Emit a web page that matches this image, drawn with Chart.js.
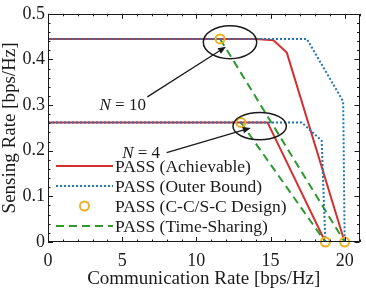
<!DOCTYPE html>
<html><head><meta charset="utf-8">
<script src="https://cdn.jsdelivr.net/npm/chart.js@4/dist/chart.umd.min.js"></script>
<style>html,body{margin:0;padding:0;background:#fff}#wrap{width:366px;height:290px;position:relative}</style>
</head><body><div id="wrap"><canvas id="c"></canvas></div>
<script>
// ---- data ----
const achievableN10X = [0, 14.0, 15.2, 16.1, 20.0];
const achievableN10Y = [0.445, 0.445, 0.442, 0.415, 0];
const achievableN4X = [0, 14.8, 18.7];
const achievableN4Y = [0.262, 0.262, 0];
const outerN10X = [0, 17.45, 19.9, 20.0];
const outerN10Y = [0.445, 0.445, 0.308, 0];
const outerN4X = [0, 17.1, 18.45, 18.7];
const outerN4Y = [0.262, 0.262, 0.222, 0];
const designX = [11.6, 20.0, 13.0, 18.7];
const designY = [0.445, 0, 0.262, 0];
const timeSharingN10X = [11.6, 20.0];
const timeSharingN10Y = [0.445, 0];
const timeSharingN4X = [13.0, 18.7];
const timeSharingN4Y = [0.262, 0];
const xTickValues = [0, 5, 10, 15, 20];
const xTickLabels = ['0', '5', '10', '15', '20'];
const yTickValues = [0, 0.1, 0.2, 0.3, 0.4, 0.5];
const yTickLabels = ['0', '0.1', '0.2', '0.3', '0.4', '0.5'];
const seriesLabels = ['PASS (Achievable)', 'PASS (Outer Bound)', 'PASS (C-C/S-C Design)', 'PASS (Time-Sharing)'];
const annotationValues = ['10', '4'];
const xTitle = 'Communication Rate [bps/Hz]';
const yTitle = 'Sensing Rate [bps/Hz]';

// annotation geometry in data units
const annotationGeom = [
  {ex: 12.27, ey: 0.4377, erx: 1.8, ery: 0.036, tx: 3.47, ty: 0.302, ax0: 6.7, ay0: 0.318, ax1: 12.0, ay1: 0.428},
  {ex: 14.27, ey: 0.254, erx: 1.8, ery: 0.030, tx: 5.0, ty: 0.198, ax0: 8.0, ay0: 0.196, ax1: 13.67, ay1: 0.25}
];

const RED = '#d62f2f', BLUE = '#1f77b4', ORANGE = '#EDB120', GREEN = '#2e9a2e', INK = '#1a1a1a';
const FONT = "'Liberation Serif', 'Times New Roman', serif";

const pts = (xs, ys) => xs.map((x, i) => ({x, y: ys[i]}));

const lineDs = (label, data, color, dash, order) => ({
  label, data, borderColor: color, backgroundColor: color, borderWidth: 2,
  borderDash: dash, pointRadius: 0, showLine: true, fill: false, tension: 0, order
});

const datasets = [
  lineDs(seriesLabels[0], pts(achievableN10X, achievableN10Y), RED, [], 4),
  lineDs(seriesLabels[0], pts(achievableN4X, achievableN4Y), RED, [], 4),
  lineDs(seriesLabels[1], pts(outerN10X, outerN10Y), BLUE, [2, 2], 2),
  lineDs(seriesLabels[1], pts(outerN4X, outerN4Y), BLUE, [2, 2], 2),
  lineDs(seriesLabels[3], pts(timeSharingN10X, timeSharingN10Y), GREEN, [8, 5], 3),
  lineDs(seriesLabels[3], pts(timeSharingN4X, timeSharingN4Y), GREEN, [8, 5], 3),
  {label: seriesLabels[2], data: pts(designX, designY), showLine: false, pointStyle: 'circle',
   pointRadius: 4.5, pointBorderWidth: 2, borderColor: ORANGE, backgroundColor: 'rgba(0,0,0,0)',
   pointBorderColor: ORANGE, pointBackgroundColor: 'rgba(0,0,0,0)', clip: false, order: 1}
];

const legendItems = [
  {type: 'line', color: RED, dash: []},
  {type: 'line', color: BLUE, dash: [2, 2]},
  {type: 'circle', color: ORANGE},
  {type: 'line', color: GREEN, dash: [8, 5]}
];

const decor = {
  id: 'decor',
  afterDatasetsDraw(chart) {
    const ctx = chart.ctx, a = chart.chartArea;
    const xs = chart.scales.x, ys = chart.scales.y;
    ctx.save();
    // frame
    ctx.strokeStyle = INK; ctx.lineWidth = 1;
    ctx.strokeRect(Math.round(a.left) + 0.5, Math.round(a.top) + 0.5, Math.round(a.right - a.left) - 1, Math.round(a.bottom - a.top) - 1);
    // ticks
    ctx.beginPath();
    for (let i = 0; i <= 21; i++) {
      const px = Math.round(xs.getPixelForValue(i)) + 0.5;
      const len = (i % 5 === 0) ? 5 : 2.5;
      ctx.moveTo(px, a.bottom); ctx.lineTo(px, a.bottom - len);
      ctx.moveTo(px, a.top); ctx.lineTo(px, a.top + len);
    }
    for (let i = 0; i <= 25; i++) {
      const py = Math.round(ys.getPixelForValue(i * 0.02)) + 0.5;
      const len = (i % 5 === 0) ? 5 : 2.5;
      ctx.moveTo(a.left, py); ctx.lineTo(a.left + len, py);
      ctx.moveTo(a.right, py); ctx.lineTo(a.right - len, py);
    }
    ctx.stroke();

    // annotations
    annotationGeom.forEach((g, k) => {
      const cx = xs.getPixelForValue(g.ex), cy = ys.getPixelForValue(g.ey);
      const rx = Math.abs(xs.getPixelForValue(g.ex + g.erx) - cx);
      const ry = Math.abs(ys.getPixelForValue(g.ey + g.ery) - cy);
      ctx.beginPath(); ctx.lineWidth = 1.5; ctx.strokeStyle = INK;
      ctx.ellipse(cx, cy, rx, ry, 0, 0, Math.PI * 2); ctx.stroke();
      // arrow
      const x0 = xs.getPixelForValue(g.ax0), y0 = ys.getPixelForValue(g.ay0);
      const x1 = xs.getPixelForValue(g.ax1), y1 = ys.getPixelForValue(g.ay1);
      const ang = Math.atan2(y1 - y0, x1 - x0), hl = 8, hw = 3.2;
      const bx = x1 - hl * Math.cos(ang), by = y1 - hl * Math.sin(ang);
      ctx.beginPath(); ctx.lineWidth = 1.3;
      ctx.moveTo(x0, y0); ctx.lineTo(bx, by); ctx.stroke();
      ctx.beginPath(); ctx.fillStyle = INK;
      ctx.moveTo(x1, y1);
      ctx.lineTo(bx + hw * Math.sin(ang), by - hw * Math.cos(ang));
      ctx.lineTo(bx - hw * Math.sin(ang), by + hw * Math.cos(ang));
      ctx.closePath(); ctx.fill();
      // text
      const tx = xs.getPixelForValue(g.tx), ty = ys.getPixelForValue(g.ty);
      ctx.fillStyle = INK; ctx.textBaseline = 'alphabetic'; ctx.textAlign = 'left';
      ctx.font = 'italic 17px ' + FONT;
      ctx.fillText('N', tx, ty + 6);
      const w = ctx.measureText('N').width;
      ctx.font = '17px ' + FONT;
      ctx.fillText(' = ' + annotationValues[k], tx + w, ty + 6);
    });

    // legend
    const lx0 = a.left + 8, lx1 = a.left + 65, tx = a.left + 67;
    ctx.font = '17.5px ' + FONT; ctx.textBaseline = 'alphabetic'; ctx.textAlign = 'left';
    legendItems.forEach((it, i) => {
      const y = a.bottom - 76 + i * 20;
      if (it.type === 'line') {
        ctx.beginPath(); ctx.setLineDash(it.dash); ctx.lineWidth = 2; ctx.strokeStyle = it.color;
        ctx.moveTo(lx0, y); ctx.lineTo(lx1, y); ctx.stroke(); ctx.setLineDash([]);
      } else {
        ctx.beginPath(); ctx.lineWidth = 2; ctx.strokeStyle = it.color;
        ctx.arc((lx0 + lx1) / 2, y, 4.5, 0, Math.PI * 2); ctx.stroke();
      }
      ctx.fillStyle = INK;
      ctx.fillText(seriesLabels[i], tx, y + 6);
    });
    ctx.restore();
  }
};

new Chart(document.getElementById('c'), {
  type: 'scatter',
  data: {datasets},
  options: {
    responsive: true, maintainAspectRatio: false, animation: false,
    layout: {padding: {top: 7, right: 3, left: 0, bottom: 0}},
    plugins: {legend: {display: false}, tooltip: {enabled: false}},
    scales: {
      x: {
        type: 'linear', min: 0, max: 21,
        afterBuildTicks: s => { s.ticks = xTickValues.map(v => ({value: v})); },
        afterFit: s => { s.height = 48; },
        grid: {display: false, drawTicks: false},
        border: {display: false},
        ticks: {padding: 8, color: INK, font: {family: FONT, size: 18},
          callback: (v) => xTickLabels[xTickValues.indexOf(v)] ?? ''},
        title: {display: true, text: xTitle, color: INK, font: {family: FONT, size: 19, lineHeight: 1.2}, padding: 0}
      },
      y: {
        type: 'linear', min: 0, max: 0.5,
        afterBuildTicks: s => { s.ticks = yTickValues.map(v => ({value: v})); },
        afterFit: s => { s.width = 48; },
        grid: {display: false, drawTicks: false},
        border: {display: false},
        ticks: {padding: 3, color: INK, font: {family: FONT, size: 18},
          callback: (v) => { const i = yTickValues.findIndex(t => Math.abs(t - v) < 1e-9); return i >= 0 ? yTickLabels[i] : ''; }},
        title: {display: true, text: yTitle, color: INK, font: {family: FONT, size: 19, lineHeight: 1.1}, padding: 0}
      }
    }
  },
  plugins: [decor]
});
</script>
</body></html>
